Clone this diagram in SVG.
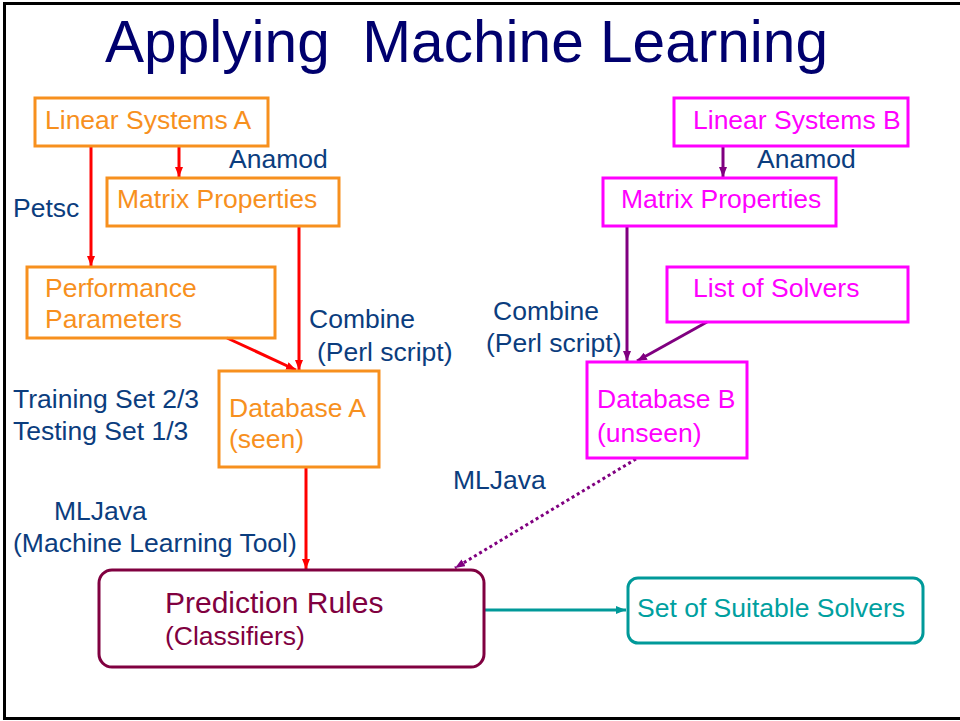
<svg xmlns="http://www.w3.org/2000/svg" width="960" height="721" viewBox="0 0 960 721">
<defs>
<style>
text{font-family:"Liberation Sans",Arial,Helvetica,sans-serif;font-size:26.5px}
text.title{font-size:60px;fill:#00006E;white-space:pre}
text.big{font-size:30px}
.lbl{fill:#0B3D7E}
.oa{fill:#F7901E}
.ob{fill:none;stroke:#F7901E;stroke-width:3}
.ma{fill:#FF00FF}
.mb{fill:none;stroke:#FF00FF;stroke-width:3}
.red{stroke:#FF0000;stroke-width:3;fill:none}
.pur{stroke:#800080;stroke-width:3;fill:none}
</style>
<marker id="ar" viewBox="0 0 10 8" refX="10" refY="4" markerWidth="10" markerHeight="8" markerUnits="userSpaceOnUse" orient="auto"><path d="M0,0 L10,4 L0,8 z" fill="#FF0000"/></marker>
<marker id="ap" viewBox="0 0 10 8" refX="10" refY="4" markerWidth="10" markerHeight="8" markerUnits="userSpaceOnUse" orient="auto"><path d="M0,0 L10,4 L0,8 z" fill="#800080"/></marker>
<marker id="at" viewBox="0 0 10 8" refX="10" refY="4" markerWidth="10" markerHeight="8" markerUnits="userSpaceOnUse" orient="auto"><path d="M0,0 L10,4 L0,8 z" fill="#009999"/></marker>
</defs>
<rect width="960" height="721" fill="#fff"/>
<g id="frame" fill="none" stroke="#000" stroke-width="3">
<path d="M960,3.5 H4.5 V718.5 H960"/>
</g>
<text id="title" class="title" x="105" y="62" xml:space="preserve" textLength="723" lengthAdjust="spacingAndGlyphs">Applying  Machine Learning</text>

<g id="connectors">
<line class="red" x1="91" y1="146" x2="91" y2="266" marker-end="url(#ar)"/>
<line class="red" x1="179" y1="146" x2="179" y2="177" marker-end="url(#ar)"/>
<line class="red" x1="299" y1="226" x2="299" y2="370" marker-end="url(#ar)"/>
<line class="red" x1="227" y1="338" x2="296" y2="370" marker-end="url(#ar)"/>
<line class="red" x1="306" y1="467" x2="306" y2="569" marker-end="url(#ar)"/>
<line class="pur" x1="723" y1="146" x2="723" y2="177" marker-end="url(#ap)"/>
<line class="pur" x1="627" y1="226" x2="627" y2="361" marker-end="url(#ap)"/>
<line class="pur" x1="707" y1="322" x2="637" y2="361" marker-end="url(#ap)"/>
<line class="pur" x1="636" y1="459" x2="455" y2="568" stroke-dasharray="3 3" marker-end="url(#ap)"/>
<line x1="484" y1="610" x2="626" y2="610" stroke="#009999" stroke-width="3" marker-end="url(#at)"/>
</g>

<g id="linA"><rect class="ob" x="35" y="98" width="233" height="48"/><text class="oa" x="45" y="129">Linear Systems A</text></g>
<g id="matA"><rect class="ob" x="107" y="178" width="232" height="48"/><text class="oa" x="117" y="208">Matrix Properties</text></g>
<g id="perfA"><rect class="ob" x="27" y="267" width="248" height="71"/><text class="oa" x="45" y="297">Performance</text><text class="oa" x="45" y="328">Parameters</text></g>
<g id="dbA"><rect class="ob" x="219" y="371" width="160" height="96"/><text class="oa" x="229" y="417">Database A</text><text class="oa" x="229" y="448">(seen)</text></g>

<g id="linB"><rect class="mb" x="674" y="98" width="234" height="48"/><text class="ma" x="693" y="129">Linear Systems B</text></g>
<g id="matB"><rect class="mb" x="603" y="178" width="233" height="48"/><text class="ma" x="621" y="208">Matrix Properties</text></g>
<g id="solB"><rect class="mb" x="667" y="267" width="241" height="55"/><text class="ma" x="693" y="297">List of Solvers</text></g>
<g id="dbB"><rect class="mb" x="587" y="362" width="160" height="96"/><text class="ma" x="597" y="408">Database B</text><text class="ma" x="597" y="442">(unseen)</text></g>

<g id="pred"><rect x="99" y="570" width="385" height="97" rx="13" fill="none" stroke="#800040" stroke-width="3"/><text class="big" x="165" y="613" fill="#800040">Prediction Rules</text><text x="165" y="645" fill="#800040">(Classifiers)</text></g>
<g id="set"><rect x="628" y="578" width="295" height="65" rx="10" fill="none" stroke="#009999" stroke-width="3"/><text x="637" y="617" fill="#00A0A0">Set of Suitable Solvers</text></g>

<g id="labels">
<text class="lbl" x="13" y="217">Petsc</text>
<text class="lbl" x="229" y="168">Anamod</text>
<text class="lbl" x="309" y="328">Combine</text>
<text class="lbl" x="317" y="361">(Perl script)</text>
<text class="lbl" x="13" y="408">Training Set 2/3</text>
<text class="lbl" x="13" y="440">Testing Set 1/3</text>
<text class="lbl" x="757" y="168">Anamod</text>
<text class="lbl" x="493" y="320">Combine</text>
<text class="lbl" x="486" y="352">(Perl script)</text>
<text class="lbl" x="453" y="489">MLJava</text>
<text class="lbl" x="54" y="520">MLJava</text>
<text class="lbl" x="13" y="552">(Machine Learning Tool)</text>
</g>
</svg>
